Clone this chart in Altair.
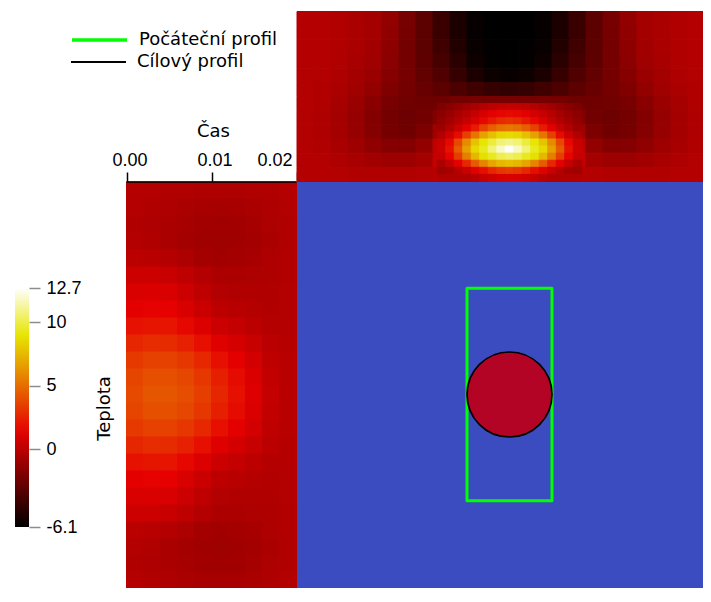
import altair as alt
import pandas as pd

# ---------------- data ----------------
T_MIN, T_MAX = -6.1, 12.7
cbar_ticks = [-6.1, 0, 5, 10, 12.7]
time_ticks = [0.0, 0.01, 0.02]
profile_names = ["Počáteční profil", "Cílový profil"]

# top strip: boundary position (cell edges) x time (cell edges, from top)
top_x_edges = [0.00, 0.04, 0.08, 0.12, 0.16, 0.20, 0.24, 0.28, 0.32, 0.36, 0.40, 0.44, 0.48,
               0.52, 0.56, 0.60, 0.64, 0.68, 0.72, 0.76, 0.80, 0.84, 0.88, 0.92, 0.96, 1.00]
top_t_edges = [0.0, 0.001667, 0.003333, 0.005, 0.006667, 0.008333, 0.01,
               0.011667, 0.013333, 0.015, 0.016667, 0.018333, 0.02]
top_T = [
    [-0.2, -0.2, -0.35, -0.5, -0.7, -1.3, -2.2, -3.1, -4.2, -5.2, -5.9, -6.1, -6.1, -6.1, -5.9, -5.2, -4.2, -3.1, -2.2, -1.3, -0.7, -0.5, -0.35, -0.2, -0.2],
    [-0.2, -0.2, -0.35, -0.5, -0.75, -1.35, -2.25, -3.1, -4.2, -5.2, -5.9, -6.1, -6.1, -6.1, -5.9, -5.2, -4.2, -3.1, -2.25, -1.35, -0.75, -0.5, -0.35, -0.2, -0.2],
    [-0.2, -0.2, -0.35, -0.55, -0.8, -1.45, -2.3, -3.05, -4.0, -4.95, -5.8, -6.05, -6.1, -6.05, -5.8, -4.95, -4.0, -3.05, -2.3, -1.45, -0.8, -0.55, -0.35, -0.2, -0.2],
    [-0.2, -0.2, -0.35, -0.6, -0.9, -1.55, -2.3, -3.0, -3.8, -4.7, -5.6, -6.0, -6.1, -6.0, -5.6, -4.7, -3.8, -3.0, -2.3, -1.55, -0.9, -0.6, -0.35, -0.2, -0.2],
    [-0.2, -0.25, -0.4, -0.7, -1.05, -1.7, -2.25, -2.85, -3.5, -4.3, -5.2, -5.7, -5.85, -5.7, -5.2, -4.3, -3.5, -2.85, -2.25, -1.7, -1.05, -0.7, -0.4, -0.25, -0.2],
    [-0.25, -0.3, -0.5, -0.85, -1.3, -1.9, -2.3, -2.7, -3.1, -3.6, -4.0, -4.4, -4.5, -4.4, -4.0, -3.6, -3.1, -2.7, -2.3, -1.9, -1.3, -0.85, -0.5, -0.3, -0.25],
    [-0.25, -0.35, -0.65, -1.05, -1.6, -2.15, -2.4, -2.5, -2.5, -2.3, -2.2, -2.2, -2.2, -2.2, -2.2, -2.3, -2.5, -2.5, -2.4, -2.15, -1.6, -1.05, -0.65, -0.35, -0.25],
    [-0.25, -0.4, -0.75, -1.2, -1.8, -2.3, -2.55, -2.35, -1.8, -0.6, 0.5, 1.3, 1.6, 1.3, 0.5, -0.6, -1.8, -2.35, -2.55, -2.3, -1.8, -1.2, -0.75, -0.4, -0.25],
    [-0.25, -0.4, -0.75, -1.15, -1.75, -2.25, -2.45, -2.0, -0.9, 1.0, 3.2, 5.3, 6.0, 5.3, 3.2, 1.0, -0.9, -2.0, -2.45, -2.25, -1.75, -1.15, -0.75, -0.4, -0.25],
    [-0.25, -0.35, -0.6, -0.95, -1.35, -1.75, -1.8, -1.3, 0.1, 2.6, 7.0, 10.8, 12.4, 10.8, 7.0, 2.6, 0.1, -1.3, -1.8, -1.75, -1.35, -0.95, -0.6, -0.35, -0.25],
    [-0.2, -0.25, -0.4, -0.6, -0.8, -1.0, -1.0, -0.7, 0.3, 1.6, 4.6, 7.3, 7.8, 7.3, 4.6, 1.6, 0.3, -0.7, -1.0, -1.0, -0.8, -0.6, -0.4, -0.25, -0.2],
    [-0.2, -0.2, -0.2, -0.3, -0.35, -0.35, -0.35, -0.25, -0.1, 0.1, 0.4, 0.6, 0.7, 0.6, 0.4, 0.1, -0.1, -0.25, -0.35, -0.35, -0.35, -0.3, -0.2, -0.2, -0.2],
]

# finer reading of the hot spot in the top strip
spot_x_edges = [0.33, 0.35, 0.37, 0.39, 0.41, 0.43, 0.45, 0.47, 0.49,
                0.51, 0.53, 0.55, 0.57, 0.59, 0.61, 0.63, 0.65, 0.67]
spot_t_edges = [0.010833, 0.011667, 0.0125, 0.013333, 0.014167, 0.015,
                0.015833, 0.016667, 0.0175, 0.018333, 0.019167, 0.02]
spot_T = [
    [-1.92, -1.62, -1.25, -0.88, -0.51, -0.21, 0.07, 0.24, 0.30, 0.24, 0.07, -0.21, -0.51, -0.88, -1.25, -1.62, -1.92],
    [-1.56, -1.13, -0.63, -0.14, 0.36, 0.86, 1.32, 1.60, 1.70, 1.60, 1.32, 0.86, 0.36, -0.14, -0.63, -1.13, -1.56],
    [-1.32, -0.81, -0.27, 0.34, 1.01, 1.67, 2.28, 2.82, 3.00, 2.82, 2.28, 1.67, 1.01, 0.34, -0.27, -0.81, -1.32],
    [-0.93, -0.31, 0.41, 1.31, 2.31, 3.58, 4.54, 5.11, 5.31, 5.11, 4.54, 3.58, 2.31, 1.31, 0.41, -0.31, -0.93],
    [-0.28, 0.57, 1.75, 3.52, 5.25, 6.69, 7.70, 8.37, 8.55, 8.37, 7.70, 6.69, 5.25, 3.52, 1.75, 0.57, -0.28],
    [0.42, 1.69, 3.78, 5.93, 7.78, 8.97, 9.83, 10.67, 10.96, 10.67, 9.83, 8.97, 7.78, 5.93, 3.78, 1.69, 0.42],
    [0.60, 2.00, 4.40, 6.60, 8.50, 9.40, 10.70, 11.80, 12.60, 11.80, 10.70, 9.40, 8.50, 6.60, 4.40, 2.00, 0.60],
    [0.31, 1.51, 3.44, 5.55, 7.39, 8.73, 9.40, 10.12, 10.39, 10.12, 9.40, 8.73, 7.39, 5.55, 3.44, 1.51, 0.31],
    [-0.47, 0.31, 1.32, 2.71, 4.40, 5.75, 6.80, 7.41, 7.61, 7.41, 6.80, 5.75, 4.40, 2.71, 1.32, 0.31, -0.47],
    [-0.90, -0.72, -0.14, 0.48, 1.23, 1.88, 2.68, 3.21, 3.40, 3.21, 2.68, 1.88, 1.23, 0.48, -0.14, -0.72, -0.90],
    [-0.35, -0.35, -0.35, -0.35, -0.06, 0.33, 0.63, 0.91, 1.00, 0.91, 0.63, 0.33, -0.06, -0.35, -0.35, -0.35, -0.35],
]

# left strip: time (cell edges) x boundary position (cell edges, from top)
left_t_edges = [0.0, 0.002, 0.004, 0.006, 0.008, 0.010, 0.012, 0.014, 0.016, 0.018, 0.020]
left_y_edges = [1.00, 0.96, 0.92, 0.88, 0.84, 0.80, 0.76, 0.72, 0.68, 0.64, 0.60, 0.56, 0.52,
                0.48, 0.44, 0.40, 0.36, 0.32, 0.28, 0.24, 0.20, 0.16, 0.12, 0.08, 0.04, 0.00]
left_T = [
    [-0.2, -0.25, -0.3, -0.35, -0.4, -0.4, -0.4, -0.35, -0.3, -0.2],
    [-0.2, -0.3, -0.4, -0.5, -0.6, -0.65, -0.6, -0.5, -0.4, -0.25],
    [-0.3, -0.4, -0.5, -0.65, -0.8, -0.85, -0.8, -0.65, -0.45, -0.3],
    [-0.25, -0.35, -0.5, -0.7, -0.85, -0.9, -0.85, -0.7, -0.5, -0.3],
    [0.0, -0.05, -0.2, -0.45, -0.7, -0.8, -0.75, -0.6, -0.42, -0.28],
    [0.6, 0.59, 0.45, 0.15, -0.21, -0.48, -0.49, -0.46, -0.39, -0.28],
    [1.0, 1.03, 0.96, 0.56, 0.13, -0.24, -0.31, -0.34, -0.34, -0.26],
    [1.4, 1.48, 1.42, 1.0, 0.51, 0.04, -0.08, -0.19, -0.28, -0.24],
    [1.98, 2.12, 2.07, 1.65, 1.12, 0.53, 0.3, 0.06, -0.17, -0.21],
    [2.65, 2.87, 2.84, 2.45, 1.9, 1.2, 0.82, 0.4, -0.02, -0.16],
    [3.27, 3.56, 3.54, 3.22, 2.68, 1.92, 1.38, 0.77, 0.14, -0.1],
    [3.67, 4.0, 4.0, 3.73, 3.21, 2.42, 1.77, 1.03, 0.25, -0.07],
    [3.85, 4.2, 4.2, 3.95, 3.45, 2.65, 1.95, 1.15, 0.3, -0.05],
    [3.67, 4.0, 4.0, 3.73, 3.21, 2.42, 1.77, 1.03, 0.25, -0.07],
    [3.27, 3.56, 3.54, 3.22, 2.68, 1.92, 1.38, 0.77, 0.14, -0.1],
    [2.65, 2.87, 2.84, 2.45, 1.9, 1.2, 0.82, 0.4, -0.02, -0.16],
    [1.98, 2.12, 2.07, 1.65, 1.12, 0.53, 0.3, 0.06, -0.17, -0.21],
    [1.4, 1.48, 1.42, 1.0, 0.51, 0.04, -0.08, -0.19, -0.28, -0.24],
    [1.0, 1.03, 0.96, 0.56, 0.13, -0.24, -0.31, -0.34, -0.34, -0.26],
    [0.6, 0.59, 0.45, 0.15, -0.21, -0.48, -0.49, -0.46, -0.39, -0.28],
    [0.0, -0.05, -0.2, -0.45, -0.7, -0.8, -0.75, -0.6, -0.42, -0.28],
    [-0.25, -0.35, -0.5, -0.7, -0.85, -0.9, -0.85, -0.7, -0.5, -0.3],
    [-0.3, -0.4, -0.5, -0.65, -0.8, -0.85, -0.8, -0.65, -0.45, -0.3],
    [-0.2, -0.3, -0.4, -0.5, -0.6, -0.65, -0.6, -0.5, -0.4, -0.25],
    [-0.2, -0.25, -0.3, -0.35, -0.4, -0.4, -0.4, -0.35, -0.3, -0.2],
]

# domain, initial profile (rectangle), target profile (circle)
domain_box = [0.0, 1.0, 0.0, 1.0]
init_box = [0.4, 0.6, 0.25, 0.75]
target_center = [0.5, 0.5]
target_radius = 0.1

# ---------------- layout constants (pixels) ----------------
LEFT, TOP, W, H = 8, 8, 695, 580
PX = 425.0            # px per spatial unit
X0PX, Y1PX = 297, 182 # pixel of spatial x=0, y=1
TPX = 8500.0          # px per time unit
LT0 = 126.5           # pixel x of t=0 (left strip)
TT0 = 11.5            # pixel y of t=0 (top strip)
CB_TOP, CB_BOT = 288, 527
CPX = (CB_BOT - CB_TOP) / (T_MAX - T_MIN)

sx = alt.Scale(domain=[(LEFT - X0PX) / PX, (LEFT + W - X0PX) / PX], nice=False, zero=False)
sy = alt.Scale(domain=[1 - (TOP + H - Y1PX) / PX, 1 + (Y1PX - TOP) / PX], nice=False, zero=False)
sxt = alt.Scale(domain=[(LEFT - LT0) / TPX, (LEFT + W - LT0) / TPX], nice=False, zero=False)
syt = alt.Scale(domain=[(TOP - TT0) / TPX, (TOP + H - TT0) / TPX], nice=False, zero=False, reverse=True)
syc = alt.Scale(domain=[T_MAX - (TOP + H - CB_TOP) / CPX, T_MAX + (CB_TOP - TOP) / CPX], nice=False, zero=False)

BB = ["#000000", "#730000", "#e60000", "#e67300", "#e6e600", "#ffffff"]
cscale = alt.Scale(domain=[T_MIN, T_MAX], range=BB, interpolate="rgb")

TXT_FONT = "DejaVu Sans"
NUM_FONT = "Liberation Sans"


# ---------------- tables ----------------
def grid_cells(x_edges, t_edges, values):
    rows = []
    for r in range(len(t_edges) - 1):
        for j in range(len(x_edges) - 1):
            rows.append({"x0": x_edges[j], "x1": x_edges[j + 1],
                         "t0": t_edges[r], "t1": t_edges[r + 1], "T": values[r][j]})
    return rows


top_df = pd.DataFrame(grid_cells(top_x_edges, top_t_edges, top_T)
                      + grid_cells(spot_x_edges, spot_t_edges, spot_T))

left_rows = []
for r in range(len(left_y_edges) - 1):
    for c in range(len(left_t_edges) - 1):
        left_rows.append({"t0": left_t_edges[c], "t1": left_t_edges[c + 1],
                          "y0": left_y_edges[r + 1], "y1": left_y_edges[r], "T": left_T[r][c]})
left_df = pd.DataFrame(left_rows)

domain_df = pd.DataFrame({"x0": [domain_box[0]], "x1": [domain_box[1]],
                          "y0": [domain_box[2]], "y1": [domain_box[3]]})
init_df = pd.DataFrame({"x0": [init_box[0]], "x1": [init_box[1]], "y0": [init_box[2]],
                        "y1": [init_box[3]], "profil": [profile_names[0]]})
target_df = pd.DataFrame({"x": [target_center[0]], "y": [target_center[1]],
                          "r": [target_radius], "profil": [profile_names[1]]})
target_df["size"] = (2 * target_df["r"] * PX) ** 2
axisline_df = pd.DataFrame({"t0": [time_ticks[0]], "t1": [time_ticks[-1]], "y": [domain_box[3]]})
cbar_df = pd.DataFrame({"v": cbar_ticks})

# ---------------- legends / axes ----------------
cbar_legend = alt.Legend(orient="none", legendX=15 - LEFT, legendY=CB_TOP - TOP, direction="vertical",
                         gradientLength=CB_BOT - CB_TOP, gradientThickness=14, gradientStrokeWidth=0,
                         labelOpacity=0, title=None, padding=0, values=[T_MIN, T_MAX])


def prof_legend(ypos, sw):
    return alt.Legend(orient="none", legendX=70 - LEFT, legendY=ypos - 11 - TOP, title=None,
                      symbolType="stroke", symbolSize=3025, symbolStrokeWidth=sw,
                      clipHeight=22, rowPadding=0, padding=0,
                      labelFont=TXT_FONT, labelFontSize=18, labelColor="black",
                      labelOffset=10, labelLimit=400)


time_axis = alt.Axis(orient="top", offset=-(192 - TOP), values=time_ticks, format=".2f",
                     domain=False, grid=False, tickSize=20, tickColor="black", tickWidth=1.5,
                     labelFont=NUM_FONT, labelFontSize=18, labelColor="black", labelPadding=3,
                     labelOffset={"condition": {"test": "datum.value > 0.015", "value": -22}, "value": 3},
                     labelFlush=False, labelOverlap=False, labelBound=False,
                     title="Čas", titleX=213 - LEFT, titleY=136.5 - 192, titleAlign="center",
                     titleBaseline="alphabetic", titleFont=TXT_FONT, titleFontSize=18,
                     titleFontWeight="normal", titleColor="black")

cbar_axis = alt.Axis(orient="right", offset=-(LEFT + W - 29), values=cbar_ticks,
                     domain=False, grid=False, tickSize=11, tickColor="#8c8c8c", tickWidth=1.5,
                     labelFont=NUM_FONT, labelFontSize=18, labelColor="black", labelPadding=6,
                     labelExpr="toString(datum.value)", labelOverlap=False, labelFlush=False,
                     labelBaseline="middle", labelBound=False,
                     title="Teplota", titleAngle=270, titleX=104 - 29, titleY=408 - TOP,
                     titleAlign="center", titleBaseline="middle", titleFont=TXT_FONT,
                     titleFontSize=18, titleFontWeight="normal", titleColor="black")

# ---------------- layers ----------------
domain_layer = alt.Chart(domain_df).mark_rect(fill="#3b4cc0", clip=True).encode(
    x=alt.X("x0:Q", scale=sx, axis=None), x2="x1:Q",
    y=alt.Y("y0:Q", scale=sy, axis=None), y2="y1:Q")

top_layer = alt.Chart(top_df).mark_rect(strokeWidth=1, clip=True).encode(
    x=alt.X("x0:Q", scale=sx, axis=None), x2="x1:Q",
    y=alt.Y("t0:Q", scale=syt, axis=None), y2="t1:Q",
    color=alt.Color("T:Q", scale=cscale, legend=cbar_legend),
    stroke=alt.Stroke("T:Q", scale=cscale, legend=None))

left_layer = alt.Chart(left_df).mark_rect(strokeWidth=1, clip=True).encode(
    x=alt.X("t0:Q", scale=sxt, axis=time_axis), x2="t1:Q",
    y=alt.Y("y0:Q", scale=sy, axis=None), y2="y1:Q",
    color=alt.Color("T:Q", scale=cscale, legend=cbar_legend),
    stroke=alt.Stroke("T:Q", scale=cscale, legend=None))

axisline_layer = alt.Chart(axisline_df).mark_rule(color="black", strokeWidth=1.5).encode(
    x=alt.X("t0:Q", scale=sxt, axis=None), x2="t1:Q",
    y=alt.Y("y:Q", scale=sy, axis=None))

init_layer = alt.Chart(init_df).mark_rect(fillOpacity=0, strokeWidth=3, strokeJoin="round", clip=True).encode(
    x=alt.X("x0:Q", scale=sx, axis=None), x2="x1:Q",
    y=alt.Y("y0:Q", scale=sy, axis=None), y2="y1:Q",
    stroke=alt.Stroke("profil:N", scale=alt.Scale(domain=[profile_names[0]], range=["#00ff00"]),
                      legend=prof_legend(40, 3.5)))

target_layer = alt.Chart(target_df).mark_point(filled=True, fill="#b40426", opacity=1,
                                               strokeOpacity=1, strokeWidth=1.7, clip=True).encode(
    x=alt.X("x:Q", scale=sx, axis=None),
    y=alt.Y("y:Q", scale=sy, axis=None),
    size=alt.Size("size:Q", scale=None),
    stroke=alt.Stroke("profil:N", scale=alt.Scale(domain=[profile_names[1]], range=["#000000"]),
                      legend=prof_legend(62, 2)))

cbar_layer = alt.Chart(cbar_df).mark_point(opacity=0).encode(
    y=alt.Y("v:Q", scale=syc, axis=cbar_axis))

chart = alt.layer(
    domain_layer, top_layer, left_layer, axisline_layer, init_layer, target_layer, cbar_layer
).resolve_scale(
    x="independent", y="independent", stroke="independent"
).properties(
    width=W, height=H, padding=0, background="white",
    autosize=alt.AutoSizeParams(type="none")
).configure_view(strokeWidth=0)

chart.save("out.html", embed_options={"renderer": "svg", "actions": False})
